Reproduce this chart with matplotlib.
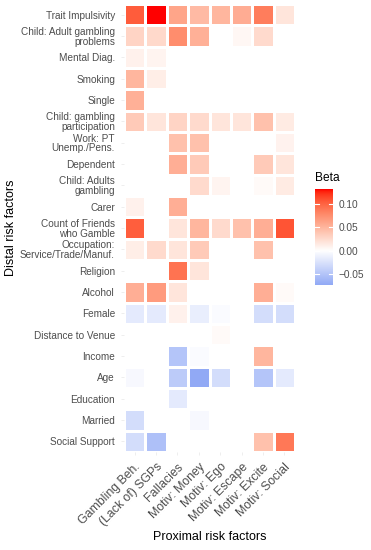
import numpy as np
import matplotlib
matplotlib.use("Agg")
import matplotlib.pyplot as plt
from matplotlib.colors import ListedColormap

plt.rcParams['font.family'] = ['Liberation Sans', 'DejaVu Sans']

# ---------------- data ----------------
proximal = ["Gambling Beh.", "(Lack of) SGPs", "Fallacies", "Motiv: Money",
            "Motiv: Ego", "Motiv: Escape", "Motiv: Excite", "Motiv: Social"]
distal = ["Trait Impulsivity", "Child: Adult gambling\nproblems", "Mental Diag.",
          "Smoking", "Single", "Child: gambling\nparticipation",
          "Work: PT\nUnemp./Pens.", "Dependent", "Child: Adults\ngambling", "Carer",
          "Count of Friends\nwho Gamble", "Occupation:\nService/Trade/Manuf.",
          "Religion", "Alcohol", "Female", "Distance to Venue", "Income", "Age",
          "Education", "Married", "Social Support"]
N = np.nan
beta = [
    [0.105, 0.133, 0.062, 0.047, 0.050, 0.057, 0.087, 0.018],   # Trait Impulsivity
    [0.030, 0.027, 0.077, 0.055, N,     0.006, 0.025, N],       # Child adult problems
    [0.010, 0.008, N,     N,     N,     N,     N,     N],       # Mental Diag
    [0.050, 0.012, N,     N,     N,     N,     N,     N],       # Smoking
    [0.055, N,     N,     N,     N,     N,     N,     N],       # Single
    [0.037, 0.018, 0.030, 0.025, 0.018, 0.018, 0.043, 0.014],   # Child participation
    [N,     N,     0.043, 0.043, N,     N,     N,     0.009],   # Work PT
    [N,     N,     0.056, 0.037, N,     N,     0.037, 0.018],   # Dependent
    [N,     N,     N,     0.025, 0.008, N,     0.004, 0.014],   # Child adults gambling
    [0.010, N,     0.056, N,     N,     N,     N,     N],       # Carer
    [0.104, N,     0.018, 0.050, 0.025, 0.043, 0.056, 0.110],   # Count of friends
    [0.012, 0.025, 0.018, 0.037, N,     N,     0.043, N],       # Occupation
    [N,     N,     0.093, 0.018, N,     N,     N,     N],       # Religion
    [0.056, 0.068, 0.018, N,     N,     N,     0.056, 0.004],   # Alcohol
    [-0.018, -0.018, 0.010, -0.015, -0.004, N,   -0.030, -0.030],  # Female
    [N,     N,     N,     N,     0.004, N,     N,     N],       # Distance
    [N,     N,     -0.050, -0.004, N,    N,     0.050, N],       # Income
    [-0.006, N,    -0.045, -0.074, -0.030, N,    -0.050, -0.018],  # Age
    [N,     N,     -0.018, N,     N,     N,     N,     N],       # Education
    [-0.030, N,    N,     -0.006, N,     N,     N,     N],       # Married
    [-0.030, -0.055, N,   N,     N,     N,     0.043, 0.090],    # Social Support
]
legend_ticks = [0.10, 0.05, 0.00, -0.05]

# ---------------- colour scale ----------------
def _srgb_to_lin(c):
    c = np.asarray(c, float)
    return np.where(c <= 0.04045, c / 12.92, ((c + 0.055) / 1.055) ** 2.4)

def _lin_to_srgb(c):
    c = np.clip(c, 0, 1)
    return np.where(c <= 0.0031308, 12.92 * c, 1.055 * c ** (1 / 2.4) - 0.055)

M = np.array([[0.4124, 0.3576, 0.1805], [0.2126, 0.7152, 0.0722], [0.0193, 0.1192, 0.9505]])
WP = np.array([0.95047, 1.0, 1.08883])

def rgb2lab(rgb):
    xyz = M @ _srgb_to_lin(rgb) / WP
    f = np.where(xyz > 0.008856, np.cbrt(xyz), 7.787 * xyz + 16 / 116)
    return np.array([116 * f[1] - 16, 500 * (f[0] - f[1]), 200 * (f[1] - f[2])])

def lab2rgb(lab):
    L, a, b = lab
    fy = (L + 16) / 116
    fx = fy + a / 500
    fz = fy - b / 200
    f = np.array([fx, fy, fz])
    xyz = np.where(f ** 3 > 0.008856, f ** 3, (f - 16 / 116) / 7.787) * WP
    return np.clip(_lin_to_srgb(np.linalg.solve(M, xyz)), 0, 1)

def hex2rgb(h):
    h = h.lstrip('#')
    return np.array([int(h[i:i + 2], 16) / 255 for i in (0, 2, 4)])

white = hex2rgb("#FFFFFF")
low_rgb = hex2rgb("#3A66EE")
mid_lab, high_lab = rgb2lab(white), rgb2lab(hex2rgb("#FF0000"))
cols = []
for t in np.linspace(0, 1, 256):
    if t < 0.5:
        s = t / 0.5
        cols.append(low_rgb * (1 - s) + white * s)
    else:
        s = (t - 0.5) / 0.5
        cols.append(lab2rgb(mid_lab * (1 - s) + high_lab * s))
cmap = ListedColormap(cols)

arr = np.array(beta, float)
data = np.ma.masked_invalid(arr)
vmax = float(np.nanmax(np.abs(arr)))
vmin_data = float(np.nanmin(arr))
vmax_data = float(np.nanmax(arr))

# ---------------- figure ----------------
W, H = 371, 550
fig = plt.figure(figsize=(W / 100, H / 100), dpi=100)
ax = fig.add_axes([124 / W, 1 - 452 / H, 171 / W, 448 / H])
nr, nc = data.shape
ax.pcolormesh(np.arange(nc + 1), np.arange(nr + 1), data, cmap=cmap,
              vmin=-vmax, vmax=vmax, edgecolors='white', linewidth=0.8)
ax.set_xlim(0, nc)
ax.set_ylim(nr, 0)
for s in ax.spines.values():
    s.set_visible(False)
grey30 = '#4D4D4D'
ax.set_xticks(np.arange(nc) + 0.5)
ax.set_yticks(np.arange(nr) + 0.5)
ax.set_yticklabels(distal, fontsize=7.2, color=grey30, linespacing=0.95)
ax.set_xticklabels(proximal, fontsize=8.8, color=grey30, rotation=45,
                   ha='right', va='top', rotation_mode='anchor')
ax.tick_params(axis='both', length=2.5, color='#EBEBEB', width=0.6, pad=4)
ax.set_xlabel("Proximal risk factors", fontsize=9)
ax.set_ylabel("Distal risk factors", fontsize=9)
ax.xaxis.set_label_coords(0.5, -(531 - 452) / 448)
ax.yaxis.set_label_coords(-(124 - 17) / 171, 0.5)

# ---------------- legend colour bar ----------------
cax = fig.add_axes([315 / W, 1 - 285 / H, 18 / W, 96 / H])
grad = np.linspace(vmin_data, vmax_data, 300).reshape(-1, 1)
cax.imshow(grad, aspect='auto', cmap=cmap, vmin=-vmax, vmax=vmax, origin='lower',
           extent=[0, 1, vmin_data, vmax_data])
cax.set_xlim(0, 1)
cax.set_ylim(vmin_data, vmax_data)
cax.set_xticks([])
cax.yaxis.tick_right()
cax.set_yticks(legend_ticks)
cax.set_yticklabels([f"{v:.2f}".replace('-', '\u2212') for v in legend_ticks],
                    fontsize=7.3, color=grey30)
cax.tick_params(axis='y', length=0, pad=4)
for v in legend_ticks:
    cax.plot([0, 0.2], [v, v], color='white', lw=0.8)
    cax.plot([0.8, 1], [v, v], color='white', lw=0.8)
for s in cax.spines.values():
    s.set_visible(False)
fig.text(315 / W, 1 - 178 / H, "Beta", fontsize=8.6, va='center', ha='left')

fig.savefig("out.png", dpi=100, facecolor='white')
